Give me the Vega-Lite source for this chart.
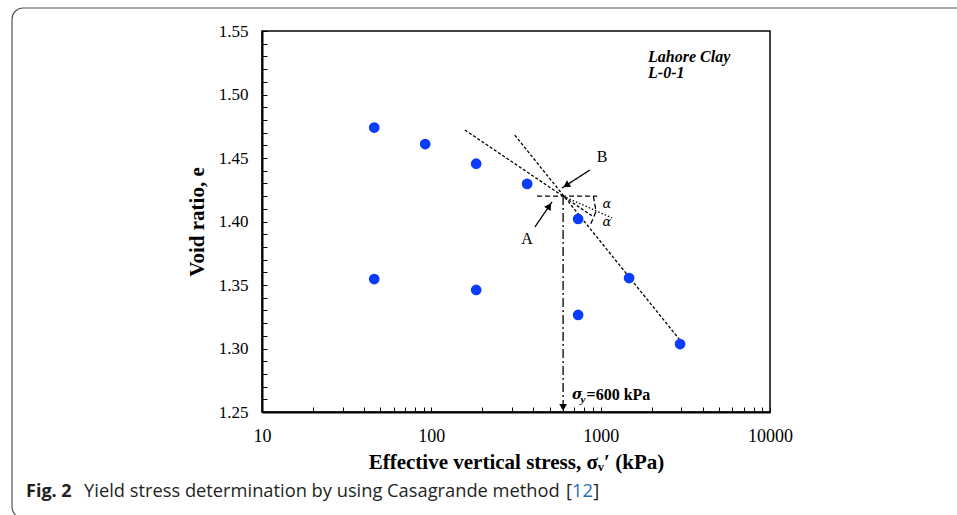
{
  "$schema": "https://vega.github.io/schema/vega-lite/v6.json",
  "autosize": "none",
  "width": 508,
  "height": 381,
  "padding": {"left": 262, "top": 31, "right": 187, "bottom": 103},
  "background": "white",
  "config": {
    "view": {"stroke": "#000", "strokeWidth": 1.5},
    "axis": {
      "grid": false,
      "domainColor": "#000",
      "domainWidth": 2,
      "tickColor": "#000",
      "tickWidth": 1,
      "tickSize": -5,
      "labelColor": "#000",
      "labelFont": "Liberation Serif",
      "titleFont": "Liberation Serif",
      "titleFontWeight": "bold",
      "titleColor": "#000",
      "titleFontSize": 21,
      "labelOverlap": false,
      "labelFlush": false,
      "labelBound": false
    }
  },
  "encoding": {
    "x": {
      "field": "stress",
      "type": "quantitative",
      "scale": {"type": "log", "domain": [10, 10000], "nice": false},
      "axis": {
        "title": "Effective vertical stress, σᵥ′ (kPa)",
        "values": [10, 20, 30, 40, 50, 60, 70, 80, 90, 100, 200, 300, 400, 500, 600, 700, 800, 900, 1000, 2000, 3000, 4000, 5000, 6000, 7000, 8000, 9000, 10000],
        "format": "d",
        "labelExpr": "indexof([10, 100, 1000, 10000], datum.value) >= 0 ? datum.label : ''",
        "labelFontSize": 18,
        "labelPadding": 20,
        "titlePadding": 6
      }
    },
    "y": {
      "field": "e",
      "type": "quantitative",
      "scale": {"domain": [1.25, 1.55], "nice": false, "zero": false},
      "axis": {
        "title": "Void ratio, e",
        "values": [1.25, 1.26, 1.27, 1.28, 1.29, 1.3, 1.31, 1.32, 1.33, 1.34, 1.35, 1.36, 1.37, 1.38, 1.39, 1.4, 1.41, 1.42, 1.43, 1.44, 1.45, 1.46, 1.47, 1.48, 1.49, 1.5, 1.51, 1.52, 1.53, 1.54, 1.55],
        "labelExpr": "round(datum.value * 100) % 5 == 0 ? format(datum.value, '.2f') : ''",
        "labelFontSize": 17,
        "labelPadding": 19,
        "titlePadding": 11
      }
    }
  },
  "layer": [
    {
      "description": "rounded figure border",
      "data": {"values": [{"stress": 0.334, "stress2": 162400, "e": 1.5681, "e2": 1.1665}]},
      "mark": {"type": "rect", "fill": "white", "fillOpacity": 0, "stroke": "#555", "strokeWidth": 1.2, "cornerRadius": 11},
      "encoding": {
        "x2": {"field": "stress2"},
        "y2": {"field": "e2"}
      }
    },
    {
      "description": "Casagrande construction lines and arrow shafts",
      "data": {"values": [
        {"id": "compression", "style": "dash", "ord": 1, "stress": 311, "e": 1.468},
        {"id": "compression", "style": "dash", "ord": 2, "stress": 3069, "e": 1.3035},
        {"id": "tangent", "style": "dash", "ord": 1, "stress": 158, "e": 1.472},
        {"id": "tangent", "style": "dash", "ord": 2, "stress": 900, "e": 1.404},
        {"id": "horizontal", "style": "dash2", "ord": 1, "stress": 421, "e": 1.42},
        {"id": "horizontal", "style": "dash2", "ord": 2, "stress": 953, "e": 1.42},
        {"id": "bisector", "style": "dot", "ord": 1, "stress": 600, "e": 1.42},
        {"id": "bisector", "style": "dot", "ord": 2, "stress": 1167, "e": 1.4028},
        {"id": "arc", "style": "dash2", "ord": 1, "stress": 906, "e": 1.42},
        {"id": "arc", "style": "dash2", "ord": 2, "stress": 939, "e": 1.408},
        {"id": "arc", "style": "dash2", "ord": 3, "stress": 865, "e": 1.3965},
        {"id": "yield", "style": "dashdot", "ord": 1, "stress": 600, "e": 1.42},
        {"id": "yield", "style": "dashdot", "ord": 2, "stress": 600, "e": 1.25},
        {"id": "arrowB", "style": "solid", "ord": 1, "stress": 865, "e": 1.4406},
        {"id": "arrowB", "style": "solid", "ord": 2, "stress": 591, "e": 1.4264},
        {"id": "arrowA", "style": "solid", "ord": 1, "stress": 409, "e": 1.3957},
        {"id": "arrowA", "style": "solid", "ord": 2, "stress": 516, "e": 1.4154}
      ]},
      "mark": {"type": "line", "color": "#000", "strokeWidth": 1.3},
      "encoding": {
        "detail": {"field": "id", "type": "nominal"},
        "order": {"field": "ord", "type": "quantitative"},
        "strokeDash": {
          "field": "style",
          "type": "nominal",
          "scale": {"domain": ["dash", "dash2", "dot", "dashdot", "solid"], "range": [[3, 2], [5, 3], [1.5, 2], [9, 3, 2, 3], [1, 0]]},
          "legend": null
        }
      }
    },
    {
      "description": "arrow heads",
      "data": {"values": [
        {"stress": 626, "e": 1.4285, "ang": 237},
        {"stress": 497, "e": 1.4121, "ang": 34},
        {"stress": 600, "e": 1.2537, "ang": 180}
      ]},
      "mark": {"type": "point", "shape": "triangle-up", "filled": true, "color": "#000", "opacity": 1, "size": 60},
      "encoding": {
        "angle": {"field": "ang", "type": "quantitative", "scale": null}
      }
    },
    {
      "description": "oedometer test results",
      "data": {"values": [
        {"stress": 46, "e": 1.474},
        {"stress": 92, "e": 1.461},
        {"stress": 184, "e": 1.4455},
        {"stress": 368, "e": 1.4296},
        {"stress": 736, "e": 1.402},
        {"stress": 1472, "e": 1.3555},
        {"stress": 2944, "e": 1.3035},
        {"stress": 736, "e": 1.3264},
        {"stress": 184, "e": 1.3461},
        {"stress": 46, "e": 1.3547}
      ]},
      "mark": {"type": "circle", "color": "#0a3cff", "opacity": 1, "size": 115}
    },
    {
      "data": {"values": [
        {"stress": 1019, "e": 1.4508, "label": "B"},
        {"stress": 367, "e": 1.3862, "label": "A"}
      ]},
      "mark": {"type": "text", "font": "Liberation Serif", "fontSize": 16, "color": "#000", "align": "center", "baseline": "middle"},
      "encoding": {"text": {"field": "label"}}
    },
    {
      "data": {"values": [
        {"stress": 1090, "e": 1.4138, "label": "α"},
        {"stress": 1090, "e": 1.3996, "label": "α"}
      ]},
      "mark": {"type": "text", "font": "DejaVu Serif", "fontStyle": "italic", "fontSize": 13, "color": "#000", "align": "center", "baseline": "middle"},
      "encoding": {"text": {"field": "label"}}
    },
    {
      "data": {"values": [
        {"stress": 1904, "e": 1.5295, "label": "Lahore Clay"},
        {"stress": 1904, "e": 1.5169, "label": "L-0-1"}
      ]},
      "mark": {"type": "text", "font": "Liberation Serif", "fontStyle": "italic", "fontWeight": "bold", "fontSize": 16, "color": "#000", "align": "left", "baseline": "middle"},
      "encoding": {"text": {"field": "label"}}
    },
    {
      "data": {"values": [{"stress": 677, "e": 1.2634, "label": "σ"}]},
      "mark": {"type": "text", "font": "DejaVu Serif", "fontStyle": "italic", "fontWeight": "bold", "fontSize": 14, "color": "#000", "align": "left", "baseline": "middle"},
      "encoding": {"text": {"field": "label"}}
    },
    {
      "data": {"values": [{"stress": 760, "e": 1.2594, "label": "y"}]},
      "mark": {"type": "text", "font": "Liberation Serif", "fontStyle": "italic", "fontWeight": "bold", "fontSize": 11, "color": "#000", "align": "left", "baseline": "middle"},
      "encoding": {"text": {"field": "label"}}
    },
    {
      "data": {"values": [{"stress": 825, "e": 1.2634, "label": "=600 kPa"}]},
      "mark": {"type": "text", "font": "Liberation Serif", "fontWeight": "bold", "fontSize": 16, "color": "#000", "align": "left", "baseline": "middle"},
      "encoding": {"text": {"field": "label"}}
    },
    {
      "description": "figure caption",
      "data": {"values": [{"stress": 0.404, "e": 1.187, "label": "Fig. 2"}]},
      "mark": {"type": "text", "font": "Open Sans", "fontWeight": "bold", "fontSize": 18, "color": "#231f20", "align": "left", "baseline": "middle"},
      "encoding": {"text": {"field": "label"}}
    },
    {
      "data": {"values": [
        {"stress": 0.89, "e": 1.187, "label": "Yield stress determination by using Casagrande method"},
        {"stress": 624, "e": 1.187, "label": "["},
        {"stress": 905, "e": 1.187, "label": "]"}
      ]},
      "mark": {"type": "text", "font": "Open Sans", "fontSize": 18.3, "color": "#231f20", "align": "left", "baseline": "middle"},
      "encoding": {"text": {"field": "label"}}
    },
    {
      "data": {"values": [{"stress": 677, "e": 1.187, "label": "12"}]},
      "mark": {"type": "text", "font": "Open Sans", "fontSize": 18.3, "color": "#2a6ebb", "align": "left", "baseline": "middle"},
      "encoding": {"text": {"field": "label"}}
    }
  ]
}
